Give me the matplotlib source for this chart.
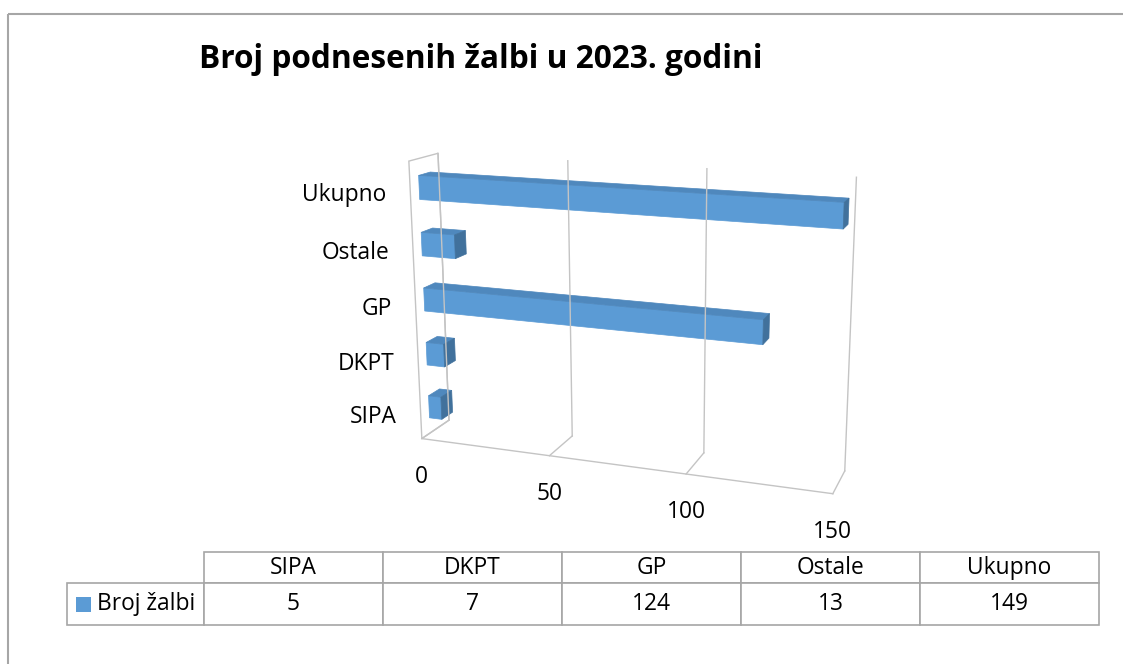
import numpy as np
import matplotlib
matplotlib.use('Agg')
import matplotlib.pyplot as plt
from matplotlib.patches import Polygon, Rectangle
from matplotlib.table import Table

plt.rcParams['font.family'] = ['Open Sans', 'DejaVu Sans']

# 数据
categories = ['SIPA', 'DKPT', 'GP', 'Ostale', 'Ukupno']
values = [5, 7, 124, 13, 149]
series_name = 'Broj žalbi'
x_ticks = [0, 50, 100, 150]
title = 'Broj podnesenih žalbi u 2023. godini'

W, H = 1123, 664
x_max = x_ticks[-1]
n_cat = len(categories)
fs = 16.4

# 透视相机标定: 盒子角点 (值/150, 类别/5, 深度) -> 像素
calib_world = np.array([
    [0, 0, 1], [0, 1, 1], [1/3, 1, 1], [1/3, 0, 1],
    [2/3, 1, 1], [2/3, 0, 1], [1, 1, 1], [1, 0, 1],
    [0, 0, 0], [1/3, 0, 0], [2/3, 0, 0], [1, 0, 0], [0, 1, 0],
])
calib_pix = np.array([
    [448, 419], [438, 154], [568, 162], [573, 435],
    [706, 168], [704, 453], [857, 177], [845, 472],
    [422, 440], [550, 456], [686, 474], [832, 493], [409, 160],
], dtype=float)


def fit_camera(world, pix):
    c = pix.mean(0)
    s = pix.std()
    p = (pix - c) / s
    rows = []
    for (X, Y, Z), (u, v) in zip(world, p):
        Xh = [X, Y, Z, 1.0]
        rows.append(Xh + [0.0] * 4 + [-u * a for a in Xh])
        rows.append([0.0] * 4 + Xh + [-v * a for a in Xh])
    _, _, vt = np.linalg.svd(np.array(rows))
    return vt[-1].reshape(3, 4), c, s


P, pc, ps = fit_camera(calib_world, calib_pix)


def proj(x, y, z):
    h = P @ np.array([x / x_max, y / n_cat, z, 1.0])
    return pc + ps * h[:2] / h[2]


def poly(pts, **kw):
    return Polygon([proj(*p) for p in pts], closed=True, **kw)


fig = plt.figure(figsize=(W / 100, H / 100), dpi=100)
ax = fig.add_axes([0, 0, 1, 1])
ax.set_xlim(0, W)
ax.set_ylim(H, 0)
ax.axis('off')

# 外框
ax.add_patch(Rectangle((8, 13.5), 1300, 800, fill=False, edgecolor='#a6a6a6', lw=1.5))

ax.text(481, 68, title, ha='center', va='baseline', fontsize=22.8, fontweight='bold')

grid_c = '#c4c4c4'
# 左侧墙
ax.add_patch(poly([(0, 0, 0), (0, n_cat, 0), (0, n_cat, 1), (0, 0, 1)],
                  fill=False, edgecolor=grid_c, lw=1))
# 背墙网格线和地面线
for t in x_ticks:
    a, b = proj(t, 0, 1), proj(t, n_cat, 1)
    ax.plot([a[0], b[0]], [a[1], b[1]], color=grid_c, lw=1)
    f = proj(t, 0, 0)
    ax.plot([a[0], f[0]], [a[1], f[1]], color=grid_c, lw=1)
    ax.text(f[0], f[1] + 44, str(t), ha='center', va='baseline', fontsize=fs)
a, b = proj(0, 0, 0), proj(x_max, 0, 0)
ax.plot([a[0], b[0]], [a[1], b[1]], color=grid_c, lw=1)

# 柱子
bh = 0.42
z0, z1 = 0.3, 0.7
c_front, c_top, c_side = '#5b9bd5', '#4f88bd', '#41719c'
for i, (cat, val) in enumerate(zip(categories, values)):
    y0, y1 = i + 0.5 - bh / 2, i + 0.5 + bh / 2
    ax.add_patch(poly([(0, y0, z0), (val, y0, z0), (val, y1, z0), (0, y1, z0)],
                      facecolor=c_front, edgecolor=c_front, lw=0.5))
    ax.add_patch(poly([(0, y1, z0), (val, y1, z0), (val, y1, z1), (0, y1, z1)],
                      facecolor=c_top, edgecolor=c_top, lw=0.5))
    ax.add_patch(poly([(val, y0, z0), (val, y0, z1), (val, y1, z1), (val, y1, z0)],
                      facecolor=c_side, edgecolor=c_side, lw=0.5))
    lx, ly = proj(0, i + 0.5, 0)
    ax.text(lx - 24, ly + 11, cat, ha='right', va='baseline', fontsize=fs)

# 数据表 (bbox 只包含数据列, 行标签列在左侧)
col_w, lab_w = 179, 137
head_h, row_h = 31.6, 41.7
tab = Table(ax, bbox=[204 / W, 1 - 625 / H, col_w * n_cat / W, (head_h + row_h) / H])
for j, cat in enumerate(categories):
    tab.add_cell(0, j, width=col_w / W, height=head_h / H, text=cat, loc='center')
    tab.add_cell(1, j, width=col_w / W, height=row_h / H, text=str(values[j]), loc='center')
lab = tab.add_cell(1, -1, width=lab_w / W, height=row_h / H, text=series_name, loc='left')
lab.PAD = (97 - 67) / lab_w
tab.auto_set_font_size(False)
tab.set_fontsize(fs)
for cell in tab.get_celld().values():
    cell.set_edgecolor('#a6a6a6')
    cell.set_linewidth(1.2)
ax.add_table(tab)
ax.add_patch(Rectangle((76, 597), 15, 15, facecolor=c_front, edgecolor='none'))

fig.savefig('out.png', dpi=100)
